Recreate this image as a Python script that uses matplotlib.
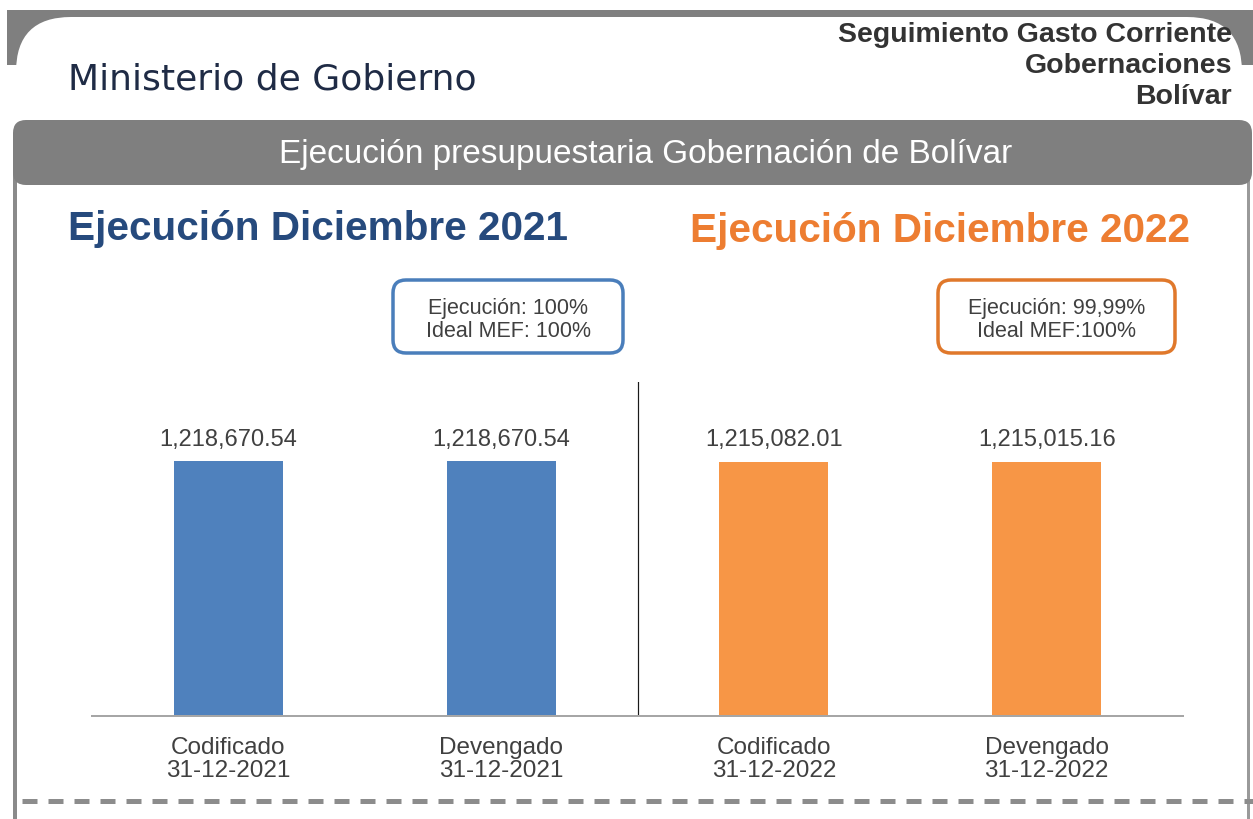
import matplotlib
matplotlib.use("Agg")
import matplotlib.pyplot as plt
from matplotlib.patches import FancyBboxPatch, Rectangle
from matplotlib.lines import Line2D

plt.rcParams['lines.scale_dashes'] = False

# ---- data ----
categories = ["Codificado\n31-12-2021", "Devengado\n31-12-2021",
              "Codificado\n31-12-2022", "Devengado\n31-12-2022"]
values = [1218670.54, 1218670.54, 1215082.01, 1215015.16]
bar_colors = ["#4f81bd", "#4f81bd", "#f79646", "#f79646"]
header_title = "Ministerio de Gobierno"
header_right = ["Seguimiento Gasto Corriente", "Gobernaciones", "Bolívar"]
bar_title = "Ejecución presupuestaria Gobernación de Bolívar"
title_2021 = "Ejecución Diciembre 2021"
title_2022 = "Ejecución Diciembre 2022"
box_2021 = "Ejecución: 100%\nIdeal MEF: 100%"
box_2022 = "Ejecución: 99,99%\nIdeal MEF:100%"

W, H = 1253, 819
fig = plt.figure(figsize=(W / 100, H / 100), dpi=100)
fig.patch.set_facecolor("white")

bg = fig.add_axes([0, 0, 1, 1])
bg.set_xlim(0, W)
bg.set_ylim(H, 0)
bg.axis("off")

GRAY = "#7f7f7f"
px = 0.72  # points per pixel at dpi 100

# top frame
bg.add_patch(Rectangle((7, 10), W - 7, 55, facecolor=GRAY, edgecolor="none", zorder=1))
bg.add_patch(FancyBboxPatch((16, 17), 1226, 400, boxstyle="round,pad=0,rounding_size=55",
                            facecolor="white", edgecolor="none", zorder=2))
# panel borders
bg.add_line(Line2D([15, 15], [150, H], color="#8a8a8a", lw=4 * px, zorder=3))
bg.add_line(Line2D([1248, 1248], [150, H], color="#9a9a9a", lw=3 * px, zorder=3))
# header bar
bg.add_patch(FancyBboxPatch((13, 120), 1239, 65, boxstyle="round,pad=0,rounding_size=13",
                            facecolor=GRAY, edgecolor="none", zorder=4))
bg.text(646, 154, bar_title, color="white", fontsize=24, family="Liberation Sans",
        ha="center", va="center", zorder=5)

# headings
bg.text(68, 80, header_title, color="#1f2b45", fontsize=26, family="DejaVu Sans",
        ha="left", va="center", zorder=5)
for i, t in enumerate(header_right):
    bg.text(1232, 42 + 31 * i, t, color="#333333", fontsize=20.5, fontweight="bold",
            family="Liberation Sans", ha="right", va="baseline", zorder=5)

bg.text(68, 229, title_2021, color="#264a7d", fontsize=29.2, fontweight="bold",
        family="Liberation Sans", ha="left", va="center", zorder=5)
bg.text(1190, 231, title_2022, color="#ed7d31", fontsize=29.2, fontweight="bold",
        family="Liberation Sans", ha="right", va="center", zorder=5)

# info boxes
for (x0, x1, col, txt) in [(393, 623, "#4a7ebb", box_2021), (938, 1175, "#e0782b", box_2022)]:
    bg.add_patch(FancyBboxPatch((x0, 280), x1 - x0, 73,
                                boxstyle="round,pad=0,rounding_size=13",
                                facecolor="white", edgecolor=col, lw=3.5 * px, zorder=5))
    bg.text((x0 + x1) / 2, 320, txt, color="#404040", fontsize=15.5,
            family="Liberation Sans", ha="center", va="center", linespacing=1.12, zorder=6)

# dashed separator
bg.add_line(Line2D([22, W], [801, 801], color="#8c8c8c", lw=5 * px,
                   dashes=(15 * px, 11 * px), zorder=3))

# ---- bar chart ----
ax_left, ax_right, ax_top, ax_bottom = 92, 1183, 382, 716
ax = fig.add_axes([ax_left / W, (H - ax_bottom) / H, (ax_right - ax_left) / W,
                   (ax_bottom - ax_top) / H])
ax.set_facecolor("none")
x = list(range(len(categories)))
bars = ax.bar(x, values, width=0.4, color=bar_colors, zorder=2)
ax.set_xlim(-0.5, len(categories) - 0.5)
ax.set_ylim(0, max(values) * (ax_bottom - ax_top) / (ax_bottom - 461))
ax.bar_label(bars, labels=[f"{v:,.2f}" for v in values], padding=7.5,
             fontsize=17, color="#404040", family="Liberation Sans")
ax.axvline(1.5, color="#1a1a1a", lw=1.2 * px, zorder=1)
for s in ["top", "left", "right"]:
    ax.spines[s].set_visible(False)
ax.spines["bottom"].set_color("#a6a6a6")
ax.spines["bottom"].set_linewidth(2 * px)
ax.set_yticks([])
ax.set_xticks(x)
ax.set_xticklabels(categories, fontsize=17.5, color="#404040", family="Liberation Sans",
                   linespacing=1.08)
ax.tick_params(axis="x", length=0, pad=15)

fig.savefig("out.png", dpi=100, facecolor="white")
